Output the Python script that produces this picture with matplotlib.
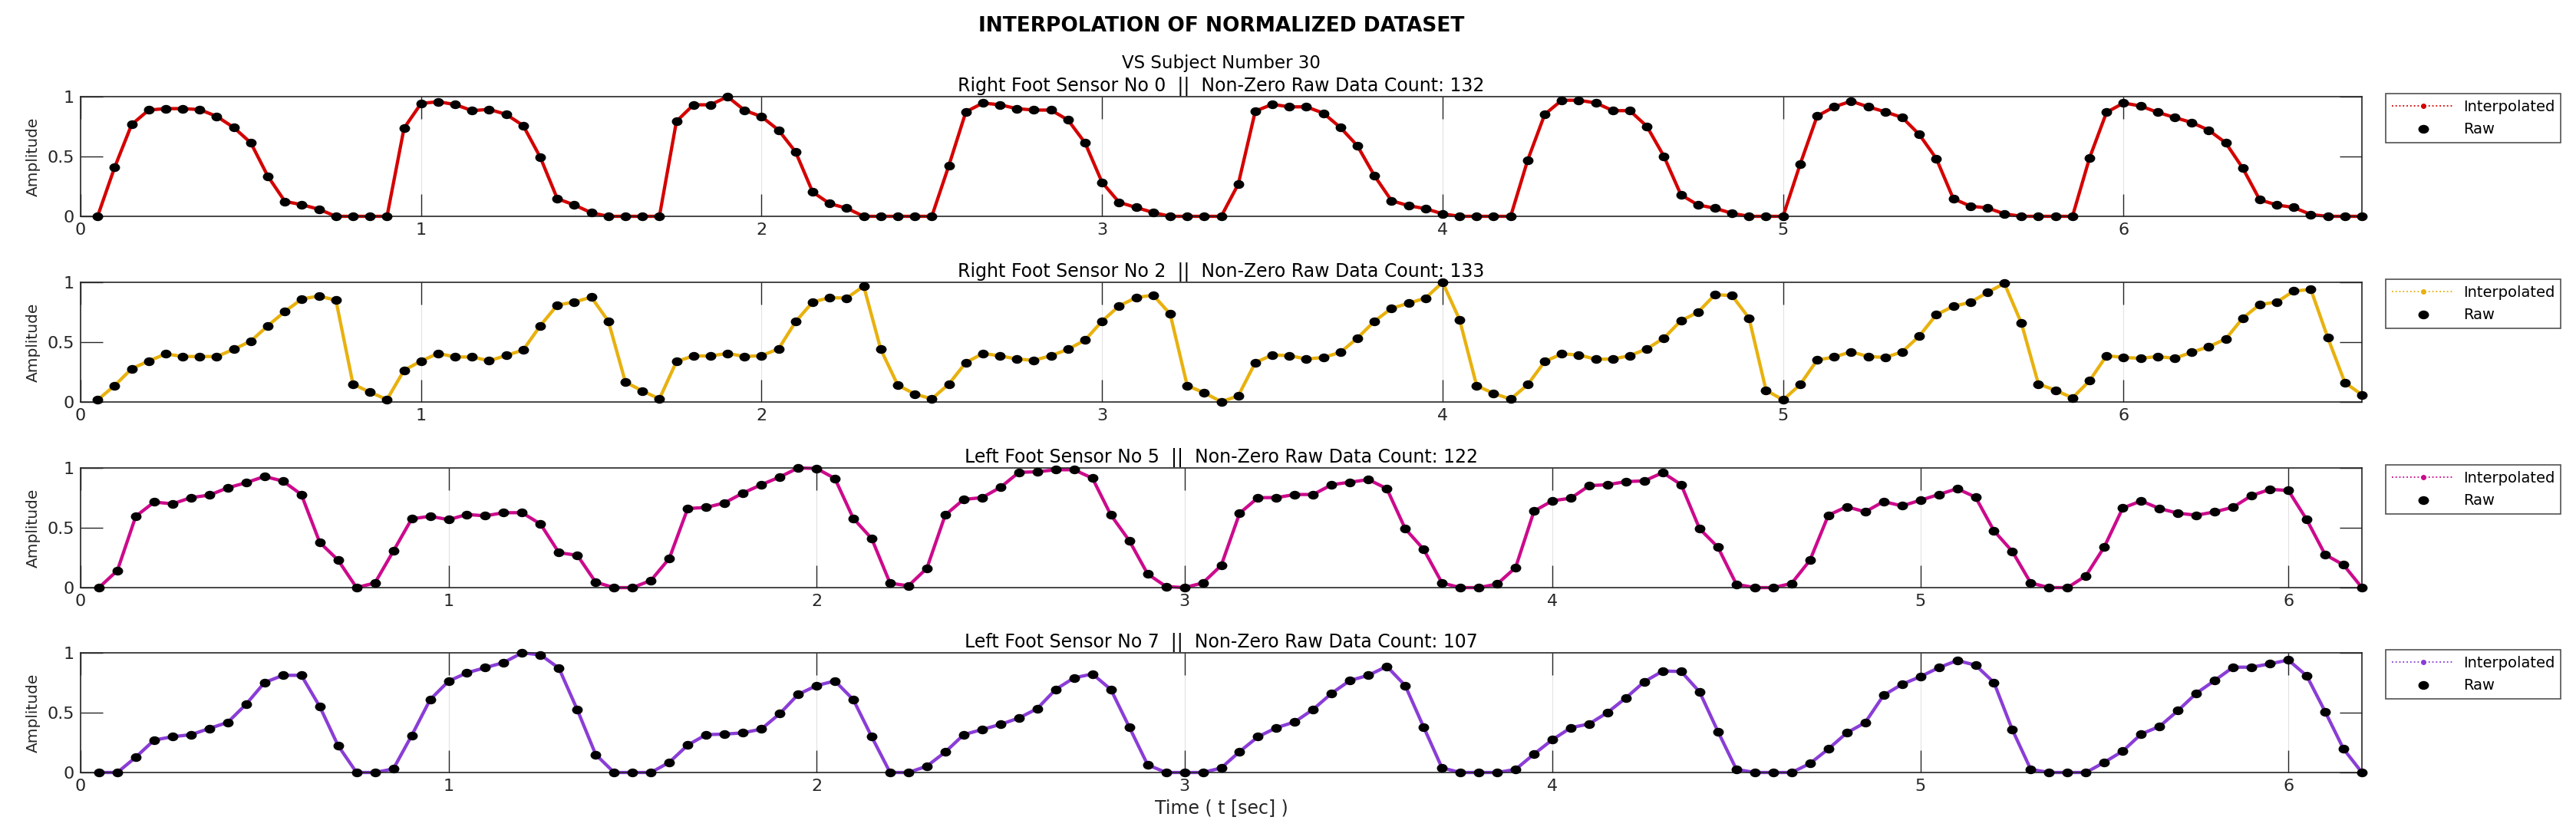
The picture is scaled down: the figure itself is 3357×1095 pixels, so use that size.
import numpy as np
import matplotlib
matplotlib.use("Agg")
import matplotlib.pyplot as plt
from matplotlib.lines import Line2D
from matplotlib.path import Path
from matplotlib.transforms import Affine2D

plt.rcParams['font.family'] = ['DejaVu Sans']

FS = 20  # raw sample rate (Hz), first sample at 1/FS

# normalized raw samples
sensor0 = [0.0, 0.409, 0.767, 0.888, 0.900, 0.900, 0.892, 0.835, 0.742, 0.614, 0.335, 0.125, 0.097, 0.059, 0.0, 0.0, 0.0, 0.0,
           0.737, 0.943, 0.958, 0.934, 0.883, 0.894, 0.852, 0.758, 0.494, 0.148, 0.095, 0.030, 0.0, 0.0, 0.0, 0.0,
           0.794, 0.932, 0.932, 1.0, 0.886, 0.833, 0.720, 0.538, 0.203, 0.106,
           0.068, 0.0, 0.0, 0.0, 0.0, 0.0,
           0.424, 0.873, 0.947, 0.932, 0.900, 0.888, 0.888, 0.805, 0.614, 0.284, 0.117, 0.074, 0.032, 0.0, 0.0, 0.0, 0.0,
           0.269, 0.879, 0.936, 0.915, 0.915, 0.862, 0.742, 0.589, 0.339, 0.131, 0.089, 0.064, 0.021, 0.0, 0.0, 0.0, 0.0,
           0.470, 0.852, 0.970, 0.970, 0.948, 0.883, 0.883, 0.752, 0.502, 0.180, 0.095, 0.068, 0.025, 0.0, 0.0, 0.0,
           0.434, 0.837, 0.915, 0.962, 0.915, 0.873, 0.826, 0.684, 0.483, 0.148, 0.085, 0.070, 0.021, 0.0, 0.0, 0.0, 0.0,
           0.487, 0.869, 0.947, 0.922, 0.869, 0.826, 0.784, 0.720, 0.614, 0.403, 0.138, 0.095, 0.074, 0.015, 0.0, 0.0, 0.0]

sensor2 = [0.017, 0.137, 0.278, 0.342, 0.402, 0.380, 0.380, 0.380, 0.440, 0.509, 0.637, 0.756, 0.861, 0.885, 0.850, 0.150, 0.081, 0.021, 0.265,
           0.342, 0.406, 0.376, 0.376, 0.344, 0.389, 0.434, 0.637, 0.810, 0.835, 0.876, 0.675, 0.167, 0.092, 0.026, 0.338, 0.385, 0.385, 0.406, 0.380,
           0.387, 0.444, 0.671, 0.835, 0.872, 0.868, 0.968, 0.440, 0.141, 0.066, 0.026, 0.150, 0.329, 0.406, 0.385, 0.359, 0.348, 0.387, 0.440, 0.517,
           0.675, 0.803, 0.872, 0.893, 0.735, 0.137, 0.077, 0.002, 0.051, 0.329, 0.393, 0.387, 0.359, 0.372, 0.415, 0.534, 0.675, 0.782, 0.825, 0.868,
           1.0, 0.688, 0.137, 0.071, 0.024, 0.145, 0.338, 0.402, 0.393, 0.357, 0.359, 0.387, 0.444, 0.534, 0.679, 0.750, 0.897, 0.889, 0.701, 0.098,
           0.017, 0.145, 0.350, 0.376, 0.419, 0.380, 0.372, 0.419, 0.551, 0.729, 0.799, 0.833, 0.915, 0.991, 0.658, 0.150, 0.098, 0.034, 0.177, 0.387,
           0.372, 0.365, 0.380, 0.365, 0.415, 0.462, 0.526, 0.701, 0.814, 0.835, 0.927, 0.940, 0.536, 0.162, 0.060]

sensor5 = [0.0, 0.143, 0.596, 0.715, 0.700, 0.752, 0.773, 0.834, 0.877, 0.929, 0.890, 0.778, 0.378, 0.229, 0.0, 0.039, 0.305, 0.575, 0.596,
           0.568, 0.611, 0.600, 0.626, 0.626, 0.531, 0.292, 0.270, 0.045, 0.0, 0.0, 0.060, 0.244, 0.661, 0.670, 0.708, 0.790, 0.860, 0.924, 1.0,
           0.996, 0.912, 0.579, 0.410, 0.037, 0.015, 0.162, 0.607, 0.737, 0.752, 0.838, 0.963, 0.968, 0.985, 0.985, 0.914, 0.607, 0.393, 0.114, 0.009,
           0.0, 0.039, 0.186, 0.622, 0.752, 0.752, 0.778, 0.778, 0.860, 0.881, 0.903, 0.827, 0.492, 0.320, 0.039, 0.0, 0.0, 0.030, 0.168, 0.639,
           0.726, 0.747, 0.852, 0.860, 0.886, 0.892, 0.961, 0.860, 0.492, 0.337, 0.028, 0.0, 0.0, 0.035, 0.229, 0.605, 0.676, 0.633, 0.719, 0.683,
           0.730, 0.778, 0.827, 0.756, 0.475, 0.302, 0.039, 0.0, 0.0, 0.099, 0.341, 0.665, 0.724, 0.661, 0.622, 0.605, 0.633, 0.672, 0.769, 0.821,
           0.812, 0.568, 0.276, 0.190, 0.0]

sensor7 = [0.0, 0.0, 0.128, 0.271, 0.299, 0.316, 0.368, 0.419, 0.571, 0.752, 0.812, 0.812, 0.551, 0.224, 0.0, 0.0, 0.030, 0.310, 0.609,
           0.763, 0.833, 0.876, 0.919, 1.0, 0.983, 0.872, 0.524, 0.150, 0.0, 0.0, 0.0, 0.085, 0.229, 0.316, 0.321, 0.331, 0.363, 0.491, 0.652,
           0.726, 0.765, 0.609, 0.299, 0.0, 0.0, 0.053, 0.171, 0.316, 0.359, 0.402, 0.455, 0.534, 0.694, 0.791, 0.823, 0.694, 0.380, 0.064, 0.0,
           0.0, 0.0, 0.038, 0.175, 0.299, 0.374, 0.423, 0.528, 0.662, 0.769, 0.812, 0.887, 0.726, 0.380, 0.038, 0.0, 0.0, 0.0, 0.026, 0.154,
           0.274, 0.374, 0.406, 0.502, 0.624, 0.759, 0.848, 0.844, 0.673, 0.342, 0.026, 0.0, 0.0, 0.0, 0.075, 0.197, 0.331, 0.417, 0.645, 0.737,
           0.801, 0.876, 0.936, 0.897, 0.752, 0.357, 0.026, 0.0, 0.0, 0.0, 0.085, 0.179, 0.321, 0.385, 0.517, 0.662, 0.769, 0.880, 0.880, 0.908,
           0.940, 0.808, 0.509, 0.197, 0.0]

series = [sensor0, sensor2, sensor5, sensor7]
titles = ["Right Foot Sensor No 0  ||  Non-Zero Raw Data Count: 132",
          "Right Foot Sensor No 2  ||  Non-Zero Raw Data Count: 133",
          "Left Foot Sensor No 5  ||  Non-Zero Raw Data Count: 122",
          "Left Foot Sensor No 7  ||  Non-Zero Raw Data Count: 107"]
colors = ['#D40000', '#E8B10E', '#CC0A8C', '#8A3DD6']
x_ticks = [0, 1, 2, 3, 4, 5, 6]
y_ticks = [0, 0.5, 1]
y_tick_labels = ['0', '0.5', '1']

# the source picture is stretched sideways, so the dots are slightly wide ellipses
dot = Path.unit_circle().transformed(Affine2D().scale(1.0, 0.8))

W_PX, H_PX = 3357, 1095
fig = plt.figure(figsize=(W_PX / 100, H_PX / 100), dpi=100)

ax_left, ax_right = 105, 3078
ax_tops = [126, 368, 610, 851]
ax_h = 156
axis_col = '#262626'

for i, (vals, title, col) in enumerate(zip(series, titles, colors)):
    top = ax_tops[i]
    ax = fig.add_axes([ax_left / W_PX, 1 - (top + ax_h) / H_PX,
                       (ax_right - ax_left) / W_PX, ax_h / H_PX])
    t = np.arange(1, len(vals) + 1) / FS

    ax.plot(t, vals, '-', color=col, lw=3.1, zorder=2, clip_on=False,
            solid_joinstyle='round')
    ax.plot(t, vals, ls='none', marker=dot, color='k', ms=9.0, zorder=3, clip_on=False)

    ax.set_xlim(0, t[-1])
    ax.set_ylim(0, 1)
    ax.set_xticks(x_ticks)
    ax.set_yticks(y_ticks)
    ax.set_yticklabels(y_tick_labels)
    ax.tick_params(direction='in', length=21, width=1, top=True, right=True,
                   labelsize=16, colors=axis_col, pad=6)
    ax.xaxis.grid(True, color='#e2e2e2', lw=0.8)
    ax.set_axisbelow(True)
    for sp in ax.spines.values():
        sp.set_color(axis_col)
        sp.set_linewidth(1.2)

    ax.set_ylabel('Amplitude', fontsize=14.5, color=axis_col, labelpad=6)
    ax.set_title(title, fontsize=17, color='k', pad=5)

    handles = [Line2D([], [], color=col, ls=':', lw=1.3, marker='.', ms=8),
               Line2D([], [], color='k', ls='none', marker=dot, ms=9)]
    leg = ax.legend(handles, ['Interpolated', 'Raw'], loc='upper left',
                    bbox_to_anchor=(1.0104, 1.026), borderaxespad=0,
                    fontsize=14, handlelength=4.2, handletextpad=0.6,
                    frameon=True, fancybox=False, edgecolor=axis_col,
                    borderpad=0.4, labelspacing=0.55)
    leg.get_frame().set_linewidth(1.2)

    if i == 3:
        ax.set_xlabel('Time ( t [sec] )', fontsize=17, color=axis_col, labelpad=4)

fig.text((ax_left + ax_right) / 2 / W_PX, 1 - 34 / H_PX,
         'INTERPOLATION OF NORMALIZED DATASET', ha='center', va='center',
         fontsize=19, fontweight='bold')
fig.text((ax_left + ax_right) / 2 / W_PX, 1 - 83 / H_PX,
         'VS Subject Number 30', ha='center', va='center', fontsize=16.5)

fig.savefig('out.png', dpi=100)
